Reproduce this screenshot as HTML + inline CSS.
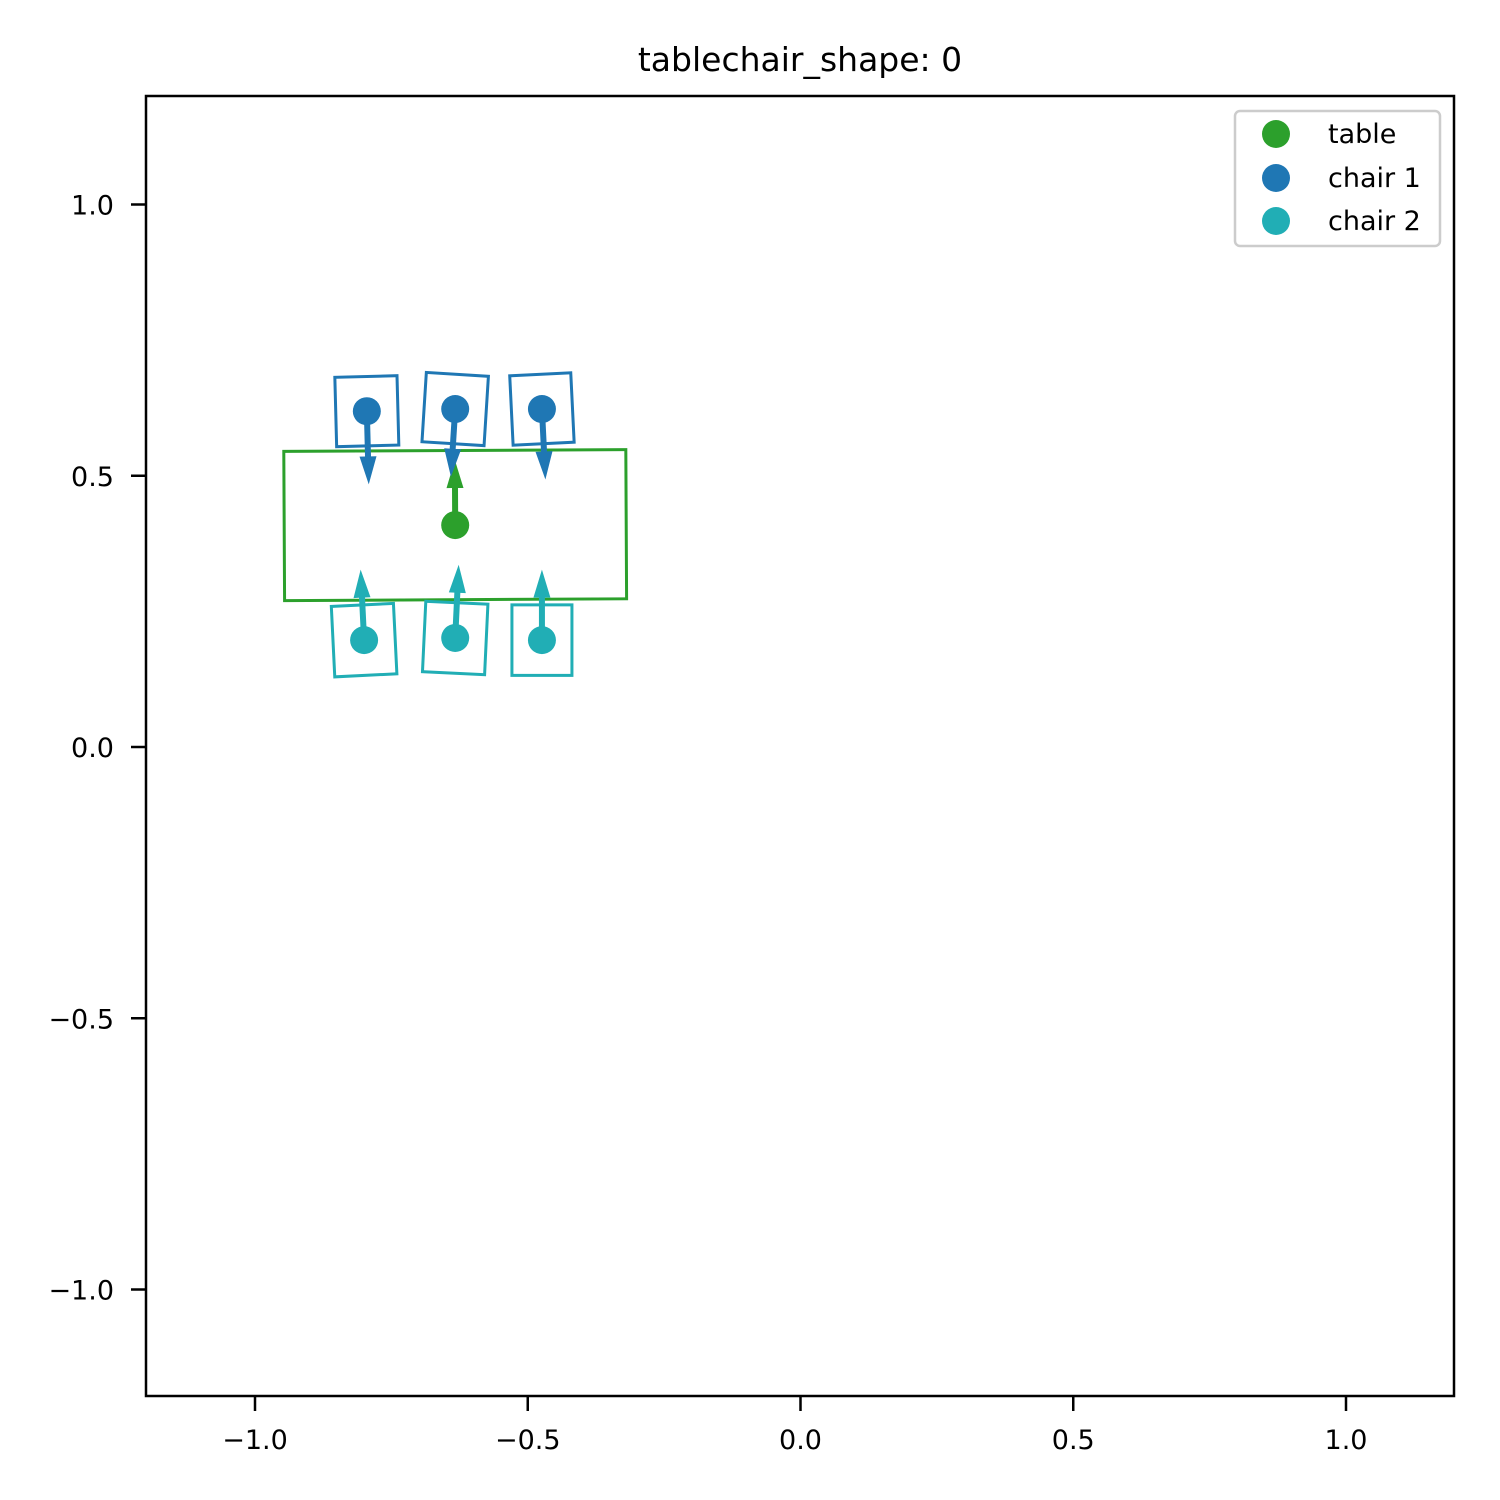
<!DOCTYPE html>
<html><head><meta charset="utf-8"><style>
html,body{margin:0;padding:0;background:#fff;}
svg{display:block;font-family:"DejaVu Sans","Liberation Sans",sans-serif;}
</style></head><body>
<svg id="chart" width="1500" height="1500" viewBox="0 0 1500 1500">
<rect width="1500" height="1500" fill="#fff"/>
<text x="800" y="71" text-anchor="middle" font-size="33">tablechair_shape: 0</text>
<g id="plot"></g>
<rect x="146" y="96" width="1308" height="1300" fill="none" stroke="#000" stroke-width="2.5"/>
<g id="axes"></g>
<g>
<rect x="1235" y="111" width="205" height="135" rx="5" fill="#fff" fill-opacity="0.8" stroke="#ccc" stroke-width="2.5"/>
<circle cx="1276" cy="134" r="14" fill="#2ca02c"/>
<text x="1328" y="143" font-size="27">table</text>
<circle cx="1276" cy="178" r="14" fill="#1f77b4"/>
<text x="1328" y="187" font-size="27">chair 1</text>
<circle cx="1276" cy="221" r="14" fill="#21aeb5"/>
<text x="1328" y="230" font-size="27">chair 2</text>
</g>
</svg>
<script>
const xTicks = [-1.0, -0.5, 0.0, 0.5, 1.0];
const xTickLabels = ["\u22121.0", "\u22120.5", "0.0", "0.5", "1.0"];
const yTicks = [1.0, 0.5, 0.0, -0.5, -1.0];
const yTickLabels = ["1.0", "0.5", "0.0", "\u22120.5", "\u22121.0"];
const objNames = ["table", "chair-1a", "chair-1b", "chair-1c", "chair-2a", "chair-2b", "chair-2c"];
const objGroup = ["table", "chair1", "chair1", "chair1", "chair2", "chair2", "chair2"];
const objX = [-0.633, -0.795, -0.633, -0.474, -0.800, -0.633, -0.474];
const objY = [0.409, 0.619, 0.623, 0.623, 0.197, 0.201, 0.197];
const objW = [0.627, 0.114, 0.114, 0.112, 0.114, 0.114, 0.110];
const objH = [0.275, 0.128, 0.128, 0.128, 0.130, 0.130, 0.130];
const objRot = [0.3, 1.5, -3.6, 2.8, 2.8, -2.7, 0];
const objFacing = [90.3, -88.5, -93.6, -87.2, 92.8, 87.3, 90];
const arrowLen = [0.12, 0.135, 0.125, 0.13, 0.13, 0.135, 0.13];

const colors = {table:"#2ca02c", chair1:"#1f77b4", chair2:"#21aeb5"};
const X = v => 800.5 + v*545.5;
const Y = v => 747 - v*542.5;
const NS = "http://www.w3.org/2000/svg";
const plot = document.getElementById("plot");
const axes = document.getElementById("axes");
function mk(tag, attrs, parent){const e=document.createElementNS(NS,tag);for(const k in attrs)e.setAttribute(k,attrs[k]);parent.appendChild(e);return e;}

xTicks.forEach((t,i)=>{
  const l=mk("line",{x1:X(t),x2:X(t),y1:1396,y2:1411,stroke:"#000","stroke-width":2.5},axes);
  
  
  const tx=mk("text",{x:X(t),y:1449,"text-anchor":"middle","font-size":"27"},axes);
  tx.textContent=xTickLabels[i];
  
  
});
yTicks.forEach((t,i)=>{
  const l=mk("line",{x1:131,x2:146,y1:Y(t),y2:Y(t),stroke:"#000","stroke-width":2.5},axes);
  
  
  const tx=mk("text",{x:114,y:Y(t)+10,"text-anchor":"end","font-size":"27"},axes);
  tx.textContent=yTickLabels[i];
  
  
});

objNames.forEach((n,i)=>{
  const c=colors[objGroup[i]];
  const cx=X(objX[i]), cy=Y(objY[i]);
  const w=objW[i]*545.5, h=objH[i]*542.5;
  const r=mk("rect",{x:cx-w/2,y:cy-h/2,width:w,height:h,fill:"none",stroke:c,"stroke-width":3,transform:`rotate(${-objRot[i]} ${cx} ${cy})`},plot);
  
  
  const a=objFacing[i]*Math.PI/180;
  const ex=X(objX[i]+arrowLen[i]*Math.cos(a)), ey=Y(objY[i]+arrowLen[i]*Math.sin(a));
  const L=Math.hypot(ex-cx,ey-cy), ux=(ex-cx)/L, uy=(ey-cy)/L, px=-uy, py=ux;
  const hl=28, hw=8.5, sw=3;
  const bx=ex-ux*hl, by=ey-uy*hl;
  const pts=[[cx+px*sw,cy+py*sw],[bx+px*sw,by+py*sw],[bx+px*hw,by+py*hw],[ex,ey],[bx-px*hw,by-py*hw],[bx-px*sw,by-py*sw],[cx-px*sw,cy-py*sw]];
  const ar=mk("polygon",{points:pts.map(p=>p.join(",")).join(" "),fill:c},plot);
  
  
  const d=mk("circle",{cx:cx,cy:cy,r:14,fill:c},plot);
  
  
});
</script>
</body></html>
